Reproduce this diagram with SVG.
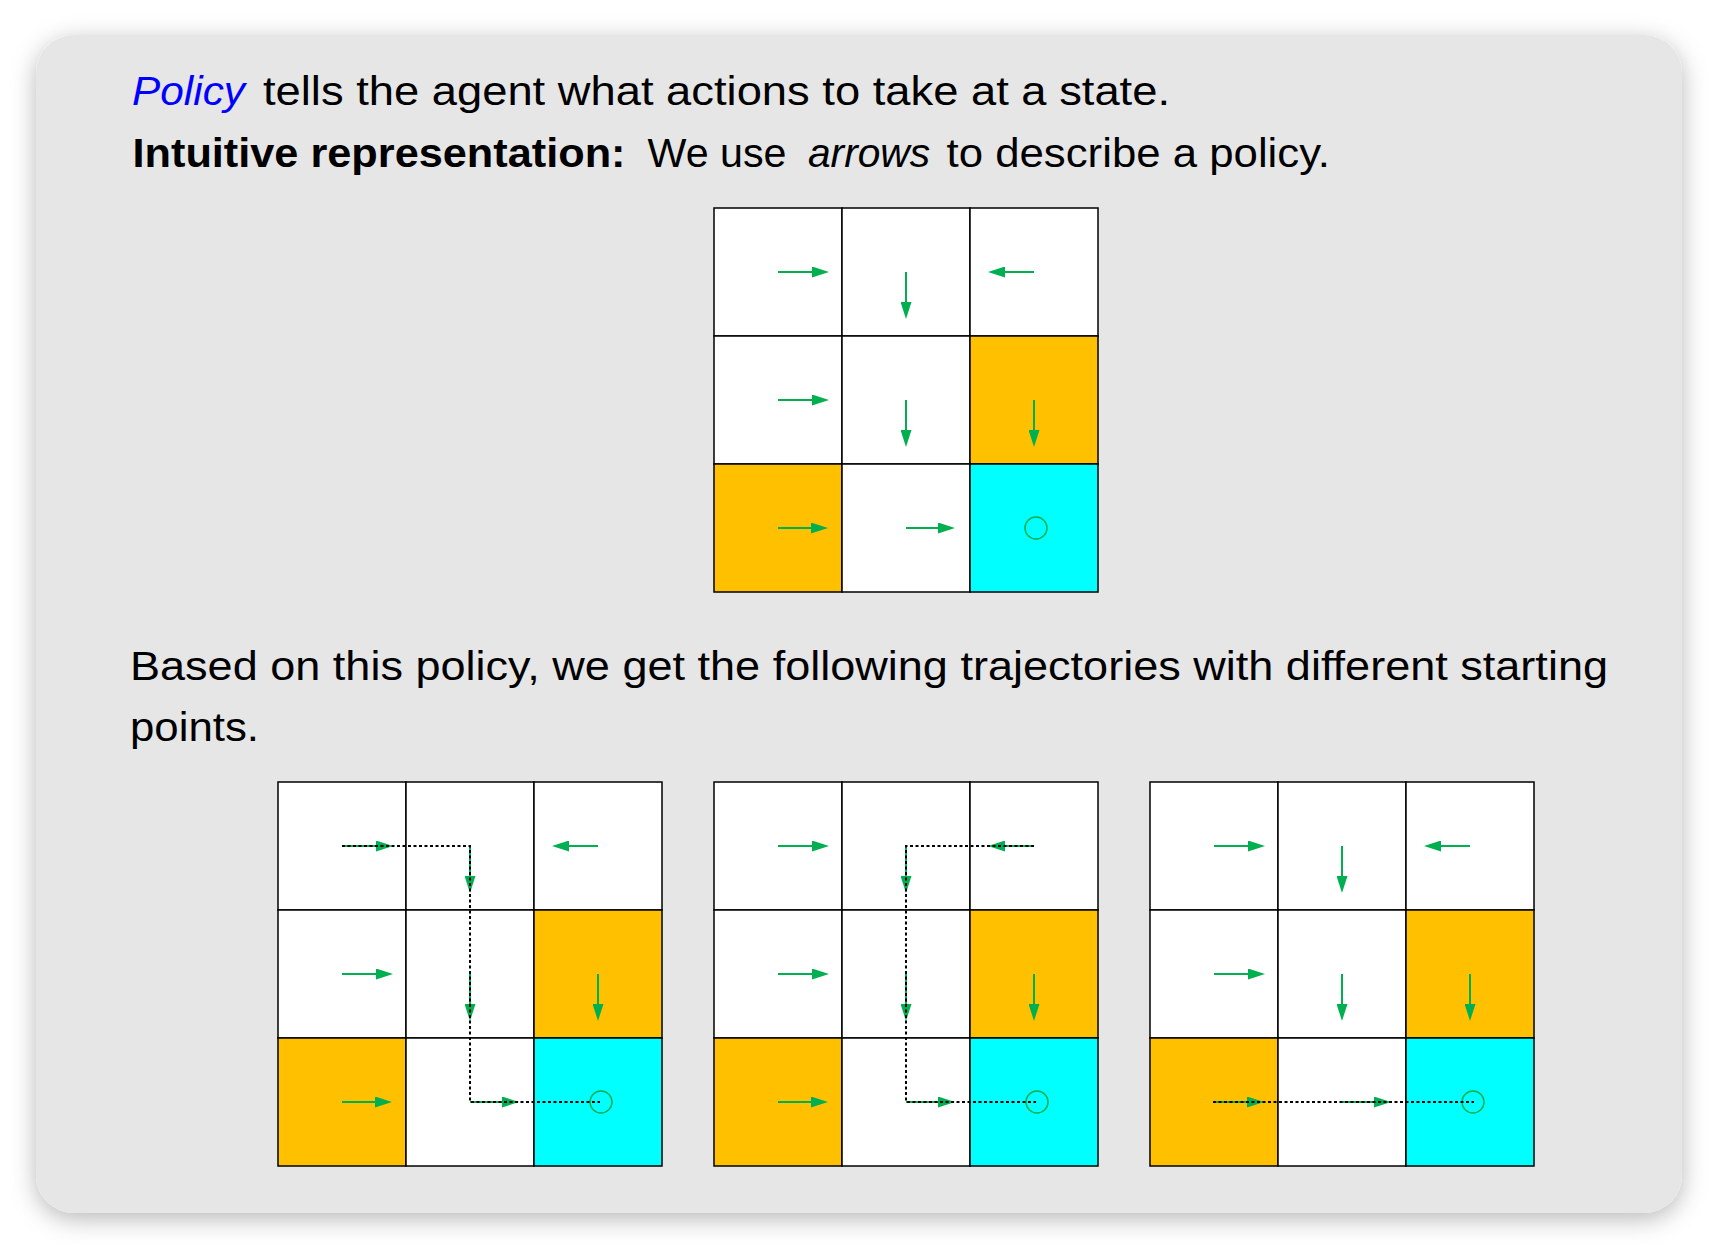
<svg xmlns="http://www.w3.org/2000/svg" width="1718" height="1250" viewBox="0 0 1718 1250">
<style>
.txt{font-family:"Liberation Sans",Arial,sans-serif;font-size:40px;fill:#000}
.b{font-weight:bold}
.i{font-style:italic}
.blue{fill:#0000ff}
.cell{stroke:#000;stroke-width:1.5}
.w{fill:#ffffff}
.o{fill:#ffc000}
.c{fill:#00ffff}
.arr{stroke:#00b050;stroke-width:2;fill:none;marker-end:url(#ah)}
.goal{stroke:#00b050;stroke-width:1.5;fill:none}
.traj{stroke:#000;stroke-width:2;fill:none;stroke-dasharray:3 2.5}
</style>
<defs>
<marker id="ah" markerUnits="userSpaceOnUse" markerWidth="17" markerHeight="11" refX="9" refY="5.5" orient="auto">
<path d="M0,0 L17,5.5 L0,11 z" fill="#00b050"/>
</marker>
<filter id="sh" x="-10%" y="-10%" width="120%" height="120%">
<feDropShadow dx="0" dy="6" stdDeviation="12" flood-color="#000" flood-opacity="0.28"/>
</filter>
</defs>
<rect width="1718" height="1250" fill="#ffffff"/>
<rect id="panel" x="36" y="35" width="1646" height="1178" rx="38" ry="38" fill="#e6e6e6" filter="url(#sh)"/>

<g id="text">
<text class="txt" y="105"><tspan class="i blue" x="132" textLength="113" lengthAdjust="spacingAndGlyphs">Policy</tspan><tspan x="263" textLength="907" lengthAdjust="spacingAndGlyphs">tells the agent what actions to take at a state.</tspan></text>
<text class="txt" y="166.5"><tspan class="b" x="132.5" textLength="493" lengthAdjust="spacingAndGlyphs">Intuitive representation:</tspan><tspan x="647.5" textLength="139" lengthAdjust="spacingAndGlyphs">We use</tspan><tspan class="i" x="808" textLength="122" lengthAdjust="spacingAndGlyphs">arrows</tspan><tspan x="946.5" textLength="383.5" lengthAdjust="spacingAndGlyphs">to describe a policy.</tspan></text>
<text class="txt" x="130" y="679.5" textLength="1478" lengthAdjust="spacingAndGlyphs">Based on this policy, we get the following trajectories with different starting</text>
<text class="txt" x="130" y="741" textLength="129" lengthAdjust="spacingAndGlyphs">points.</text>
</g>

<g id="policy-grid" transform="translate(714,208)">
<rect class="cell w" x="0" y="0" width="128" height="128"/>
<rect class="cell w" x="128" y="0" width="128" height="128"/>
<rect class="cell w" x="256" y="0" width="128" height="128"/>
<rect class="cell w" x="0" y="128" width="128" height="128"/>
<rect class="cell w" x="128" y="128" width="128" height="128"/>
<rect class="cell o" x="256" y="128" width="128" height="128"/>
<rect class="cell o" x="0" y="256" width="128" height="128"/>
<rect class="cell w" x="128" y="256" width="128" height="128"/>
<rect class="cell c" x="256" y="256" width="128" height="128"/>
<path class="arr" d="M64,64 H107"/>
<path class="arr" d="M192,64 V103"/>
<path class="arr" d="M320,64 H282"/>
<path class="arr" d="M64,192 H107"/>
<path class="arr" d="M192,192 V231"/>
<path class="arr" d="M320,192 V231"/>
<path class="arr" d="M64,320 H106"/>
<path class="arr" d="M192,320 H233"/>
<circle class="goal" cx="322" cy="320" r="11"/>
</g>

<g id="trajectory-grid-1" transform="translate(278,782)">
<rect class="cell w" x="0" y="0" width="128" height="128"/>
<rect class="cell w" x="128" y="0" width="128" height="128"/>
<rect class="cell w" x="256" y="0" width="128" height="128"/>
<rect class="cell w" x="0" y="128" width="128" height="128"/>
<rect class="cell w" x="128" y="128" width="128" height="128"/>
<rect class="cell o" x="256" y="128" width="128" height="128"/>
<rect class="cell o" x="0" y="256" width="128" height="128"/>
<rect class="cell w" x="128" y="256" width="128" height="128"/>
<rect class="cell c" x="256" y="256" width="128" height="128"/>
<path class="arr" d="M64,64 H107"/>
<path class="arr" d="M192,64 V103"/>
<path class="arr" d="M320,64 H282"/>
<path class="arr" d="M64,192 H107"/>
<path class="arr" d="M192,192 V231"/>
<path class="arr" d="M320,192 V231"/>
<path class="arr" d="M64,320 H106"/>
<path class="arr" d="M192,320 H233"/>
<circle class="goal" cx="323" cy="320" r="11"/>
</g>

<g id="trajectory-grid-2" transform="translate(714,782)">
<rect class="cell w" x="0" y="0" width="128" height="128"/>
<rect class="cell w" x="128" y="0" width="128" height="128"/>
<rect class="cell w" x="256" y="0" width="128" height="128"/>
<rect class="cell w" x="0" y="128" width="128" height="128"/>
<rect class="cell w" x="128" y="128" width="128" height="128"/>
<rect class="cell o" x="256" y="128" width="128" height="128"/>
<rect class="cell o" x="0" y="256" width="128" height="128"/>
<rect class="cell w" x="128" y="256" width="128" height="128"/>
<rect class="cell c" x="256" y="256" width="128" height="128"/>
<path class="arr" d="M64,64 H107"/>
<path class="arr" d="M192,64 V103"/>
<path class="arr" d="M320,64 H282"/>
<path class="arr" d="M64,192 H107"/>
<path class="arr" d="M192,192 V231"/>
<path class="arr" d="M320,192 V231"/>
<path class="arr" d="M64,320 H106"/>
<path class="arr" d="M192,320 H233"/>
<circle class="goal" cx="323" cy="320" r="11"/>
</g>

<g id="trajectory-grid-3" transform="translate(1150,782)">
<rect class="cell w" x="0" y="0" width="128" height="128"/>
<rect class="cell w" x="128" y="0" width="128" height="128"/>
<rect class="cell w" x="256" y="0" width="128" height="128"/>
<rect class="cell w" x="0" y="128" width="128" height="128"/>
<rect class="cell w" x="128" y="128" width="128" height="128"/>
<rect class="cell o" x="256" y="128" width="128" height="128"/>
<rect class="cell o" x="0" y="256" width="128" height="128"/>
<rect class="cell w" x="128" y="256" width="128" height="128"/>
<rect class="cell c" x="256" y="256" width="128" height="128"/>
<path class="arr" d="M64,64 H107"/>
<path class="arr" d="M192,64 V103"/>
<path class="arr" d="M320,64 H282"/>
<path class="arr" d="M64,192 H107"/>
<path class="arr" d="M192,192 V231"/>
<path class="arr" d="M320,192 V231"/>
<path class="arr" d="M64,320 H106"/>
<path class="arr" d="M192,320 H233"/>
<circle class="goal" cx="323" cy="320" r="11"/>
</g>

<g id="connectors">
<path class="traj" d="M342,846 H470 V1102 H600"/>
<path class="traj" d="M1034,846 H906 V1102 H1036"/>
<path class="traj" d="M1213,1102 H1474"/>
</g>
</svg>
